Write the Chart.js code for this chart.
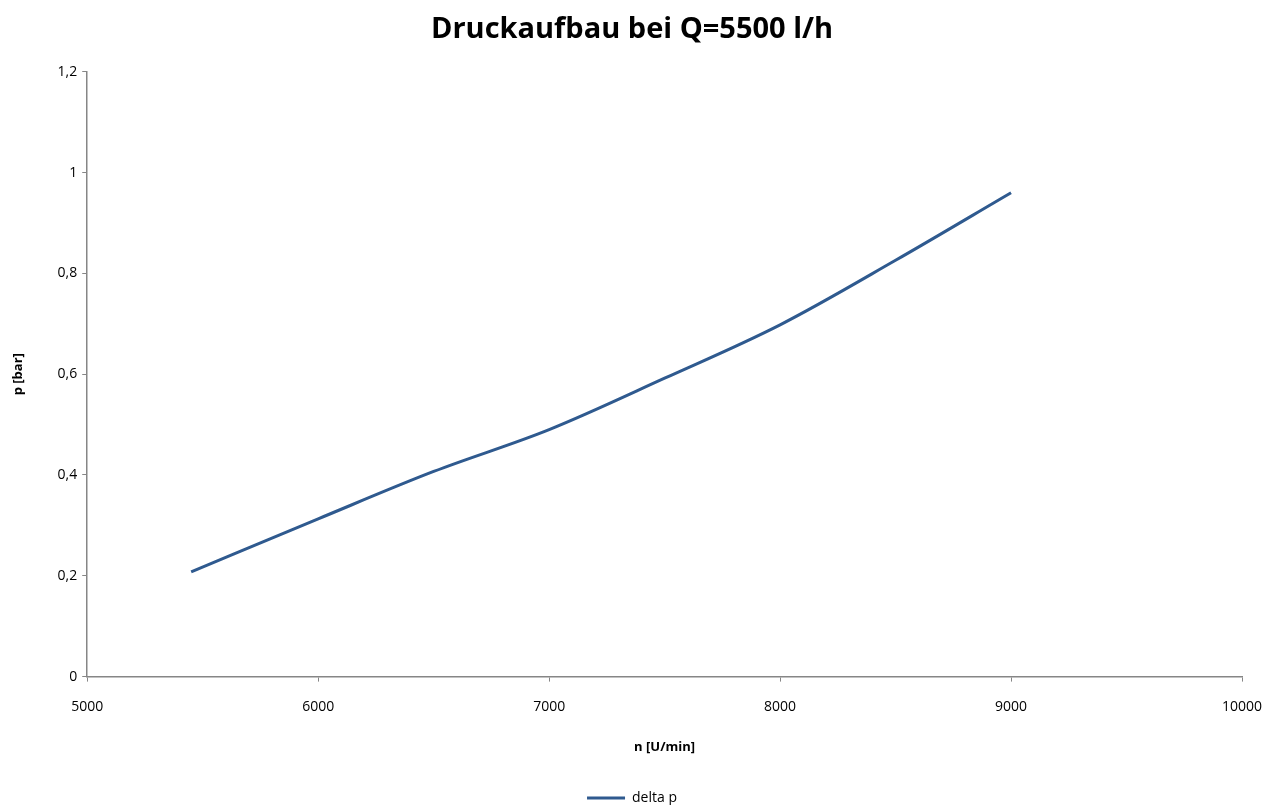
<!DOCTYPE html>
<html>
<head>
<meta charset="utf-8">
<script src="https://cdn.jsdelivr.net/npm/chart.js@4/dist/chart.umd.min.js"></script>
<style>
    html, body { margin: 0; padding: 0; background: #fff; }
</style>
</head>
<body>
<canvas id="chart" width="1272" height="805"></canvas>
<script>
    // drehzahl n [U/min] und druck p [bar]
    const drehzahl = [5450, 6000, 6500, 7000, 7500, 8000, 8500, 9000];
    const deltaP = [0.208, 0.313, 0.407, 0.490, 0.592, 0.698, 0.826, 0.960];
    const xTicks = [5000, 6000, 7000, 8000, 9000, 10000];
    const yTicks = [0, 0.2, 0.4, 0.6, 0.8, 1, 1.2];

    const FONT = "'Open Sans', 'Liberation Sans', sans-serif";
    const AXIS = "#868686";

    new Chart(document.getElementById("chart"), {
        type: "scatter",
        data: {
            datasets: [{
                label: "delta p",
                data: drehzahl.map((n, i) => ({ x: n, y: deltaP[i] })),
                showLine: true,
                borderColor: "#2f5a8f",
                backgroundColor: "#2f5a8f",
                borderWidth: 3,
                pointRadius: 0,
                tension: 0.4,
                cubicInterpolationMode: "monotone"
            }]
        },
        options: {
            responsive: false,
            animation: false,
            layout: { padding: { left: 10, right: 18, top: 8, bottom: -10 } },
            plugins: {
                title: {
                    display: true,
                    text: "Druckaufbau bei Q=5500 l/h",
                    color: "#000",
                    font: { family: FONT, size: 29, weight: "bold" },
                    padding: { top: 4, bottom: 25 }
                },
                legend: {
                    position: "bottom",
                    labels: {
                        usePointStyle: true,
                        pointStyle: "line",
                        pointStyleWidth: 38,
                        color: "#000",
                        font: { family: FONT, size: 14 },
                        padding: 0
                    }
                },
                tooltip: { enabled: false }
            },
            scales: {
                x: {
                    type: "linear",
                    min: 5000,
                    max: 10000,
                    afterBuildTicks: axis => { axis.ticks = xTicks.map(v => ({ value: v })); },
                    // room for the "10000" label on the right
                    afterFit: axis => { axis.paddingRight = 30; },
                    grid: { drawOnChartArea: false, color: AXIS, tickLength: 5 },
                    border: { color: AXIS, width: 1.5 },
                    ticks: {
                        color: "#000",
                        font: { family: FONT, size: 14 },
                        padding: 17,
                        maxRotation: 0,
                        callback: v => String(v)
                    },
                    title: {
                        display: true,
                        text: "n [U/min]",
                        color: "#000",
                        font: { family: FONT, size: 13, weight: "bold" },
                        padding: { top: 7, bottom: 36 }
                    }
                },
                y: {
                    min: 0,
                    max: 1.2,
                    afterBuildTicks: axis => { axis.ticks = yTicks.map(v => ({ value: v })); },
                    grid: { drawOnChartArea: false, color: AXIS, tickLength: 5 },
                    border: { color: AXIS, width: 1.5 },
                    ticks: {
                        color: "#000",
                        font: { family: FONT, size: 14 },
                        padding: 5,
                        callback: v => String(v).replace(".", ",")
                    },
                    title: {
                        display: true,
                        text: "p [bar]",
                        color: "#000",
                        font: { family: FONT, size: 13, weight: "bold" },
                        padding: { top: 0, bottom: 27 }
                    }
                }
            }
        }
    });
</script>
</body>
</html>
